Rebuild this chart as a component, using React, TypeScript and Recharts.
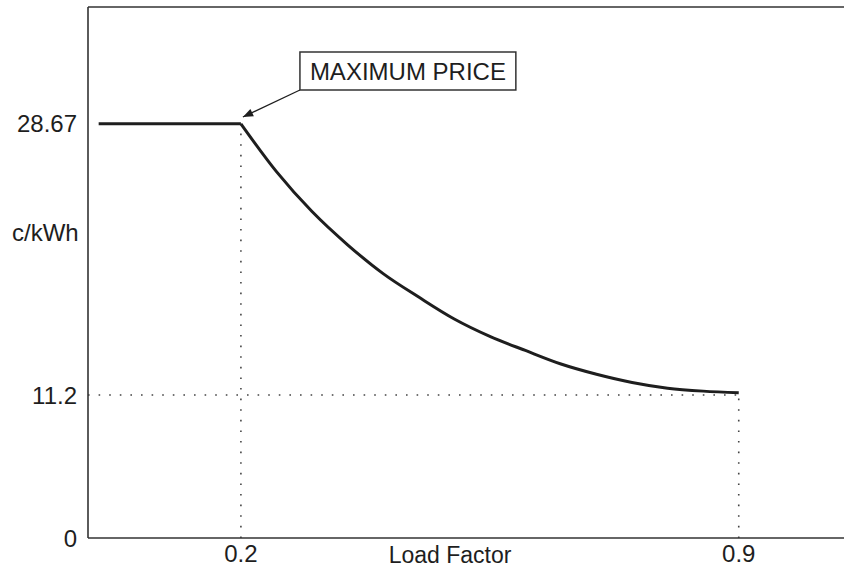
import { Line, LineChart, ReferenceArea, ReferenceLine, XAxis, YAxis } from "recharts";

// load factor (x) and price in c/kWh (y)
const flatLoad = [0, 0.2];
const flatPrice = [28.67, 28.67];
const curveLoad = [0.2, 0.25, 0.3, 0.35, 0.4, 0.45, 0.5, 0.55, 0.6, 0.65, 0.7, 0.75, 0.8, 0.85, 0.9];
const curvePrice = [28.67, 25.59, 23.02, 20.88, 19.02, 17.51, 16.1, 14.98, 14.07, 13.2, 12.54, 12.01, 11.64, 11.45, 11.35];

const xTicks = [0.2, 0.9];
const yTicks = [0, 11.2, 28.67];
const MAX_PRICE = 28.67;
const MIN_PRICE = 11.2;
const MAX_LOAD = 0.2;
const END_LOAD = 0.9;

const X_DOMAIN: [number, number] = [-0.015, 1.048];
const Y_DOMAIN: [number, number] = [0, 36.2];

const INK = "#1e1e1e";
const FONT = "'Liberation Sans', Arial, Helvetica, sans-serif";

const data: any[] = [
  { lf: flatLoad[0], flat: flatPrice[0] },
  { lf: flatLoad[1], flat: flatPrice[1], curve: curvePrice[0] },
  ...curveLoad.slice(1).map((lf, i) => ({ lf, curve: curvePrice[i + 1] })),
];

// The original y axis is not drawn to scale: the 0..11.2 part is squeezed.
// Piecewise-linear scale with one break, shaped like a d3 scale.
function brokenScale(breakValue: number, breakAt: number) {
  let dom = [0, 1];
  let rng = [0, 1];
  const scale: any = (v: number) => {
    const [d0, d1] = dom;
    const t =
      v <= breakValue
        ? ((v - d0) / (breakValue - d0)) * breakAt
        : breakAt + ((v - breakValue) / (d1 - breakValue)) * (1 - breakAt);
    return rng[0] + t * (rng[1] - rng[0]);
  };
  scale.domain = (d?: number[]) => {
    if (d === undefined) return dom.slice();
    dom = d.map(Number);
    return scale;
  };
  scale.range = (r?: number[]) => {
    if (r === undefined) return rng.slice();
    rng = r.map(Number);
    return scale;
  };
  scale.ticks = () => yTicks.slice();
  scale.tickFormat = () => (v: number) => String(v);
  scale.copy = () => brokenScale(breakValue, breakAt).domain(dom).range(rng);
  return scale;
}

const yScale = brokenScale(MIN_PRICE, 0.2693);

function ArrowLine(props: any) {
  const { x1, y1, x2, y2 } = props;
  const ang = Math.atan2(y2 - y1, x2 - x1);
  const len = 11;
  const spread = 0.38;
  const a = [x2 - len * Math.cos(ang - spread), y2 - len * Math.sin(ang - spread)];
  const b = [x2 - len * Math.cos(ang + spread), y2 - len * Math.sin(ang + spread)];
  return (
    <g>
      <line x1={x1} y1={y1} x2={x2} y2={y2} stroke={INK} strokeWidth={1.3} />
      <polygon points={`${x2},${y2} ${a[0]},${a[1]} ${b[0]},${b[1]}`} fill={INK} />
    </g>
  );
}

const tickStyle = { fill: INK, fontSize: 24, fontFamily: FONT };
const dotted = { stroke: "#444", strokeWidth: 1.6, strokeDasharray: "1.6 9", ifOverflow: "visible" as const };

export default function App() {
  return (
    <div style={{ position: "absolute", left: 0, top: 0, background: "#fff" }}>
      <LineChart width={844} height={569} data={data} margin={{ top: 7, right: 0, bottom: 0, left: 0 }}>
        <XAxis
          type="number"
          dataKey="lf"
          domain={X_DOMAIN}
          allowDataOverflow
          ticks={xTicks}
          interval={0}
          tickLine={false}
          tickSize={0}
          tickMargin={7}
          height={31}
          axisLine={{ stroke: "#333", strokeWidth: 1.6 }}
          tick={tickStyle}
          label={{ value: "Load Factor", position: "insideBottom", offset: 6, dx: -16, fill: INK, fontSize: 23, fontFamily: FONT }}
        />
        <YAxis
          type="number"
          domain={Y_DOMAIN}
          scale={yScale}
          allowDataOverflow
          ticks={yTicks}
          interval={0}
          tickLine={false}
          tickSize={0}
          tickMargin={11}
          width={88}
          axisLine={{ stroke: "#333", strokeWidth: 1.6 }}
          tick={tickStyle}
          label={{ value: "c/kWh", position: "insideLeft", offset: 12, dy: -40, fill: INK, fontSize: 24, fontFamily: FONT }}
        />
        <ReferenceLine y={Y_DOMAIN[1]} stroke="#333" strokeWidth={1.6} />
        <ReferenceLine segment={[{ x: MAX_LOAD, y: 0 }, { x: MAX_LOAD, y: MAX_PRICE }]} {...dotted} />
        <ReferenceLine segment={[{ x: X_DOMAIN[0], y: MIN_PRICE }, { x: END_LOAD, y: MIN_PRICE }]} {...dotted} />
        <ReferenceLine segment={[{ x: END_LOAD, y: 0 }, { x: END_LOAD, y: MIN_PRICE }]} {...dotted} />
        <Line dataKey="flat" type="linear" stroke={INK} strokeWidth={3} dot={false} isAnimationActive={false} />
        <Line dataKey="curve" type="monotone" stroke={INK} strokeWidth={3} dot={false} isAnimationActive={false} />
        <ReferenceArea
          x1={0.283}
          x2={0.5866}
          y1={30.85}
          y2={33.3}
          fill="#fff"
          fillOpacity={1}
          stroke="#333"
          strokeWidth={1.5}
          ifOverflow="visible"
          label={{ value: "MAXIMUM PRICE", position: "center", fill: INK, fontSize: 24, fontFamily: FONT }}
        />
        <ReferenceLine
          segment={[{ x: 0.283, y: 30.85 }, { x: 0.2028, y: 29.11 }]}
          ifOverflow="visible"
          shape={ArrowLine}
        />
      </LineChart>
    </div>
  );
}
